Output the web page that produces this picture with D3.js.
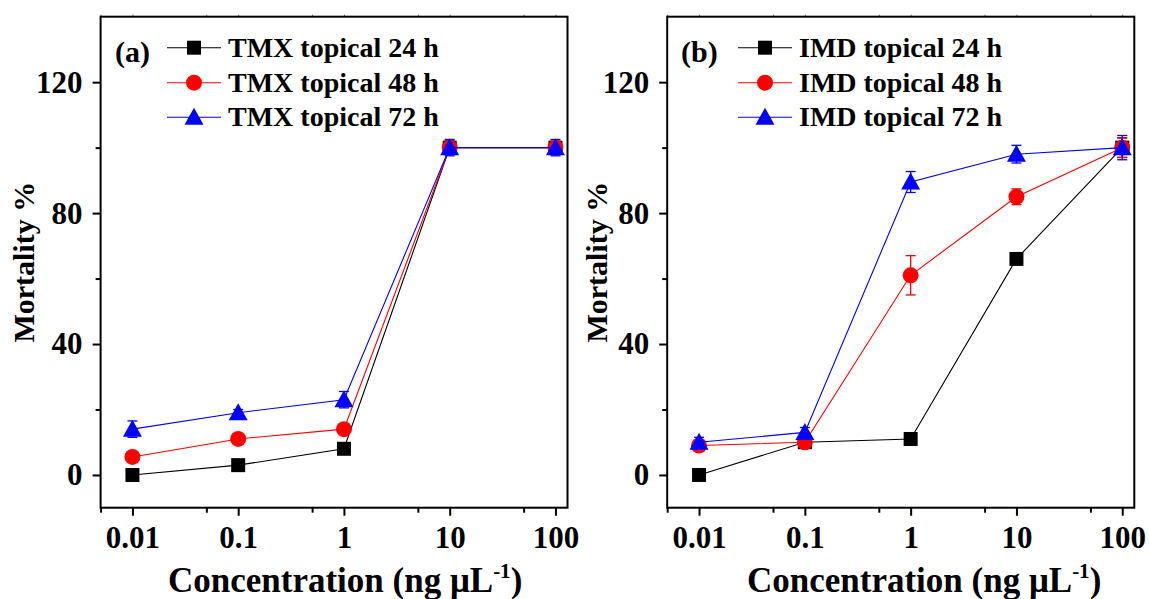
<!DOCTYPE html>
<html>
<head>
<meta charset="utf-8">
<script src="https://cdn.jsdelivr.net/npm/d3@7"></script>
<style>
  html, body { margin: 0; padding: 0; background: #fff; }
  svg text { font-family: 'Liberation Serif', 'Times New Roman', serif; font-weight: bold; fill: #000; }
</style>
</head>
<body>
<svg id="chart" width="1149" height="599"></svg>
<script>
// ---------------- data ----------------
const concentrations = [0.01, 0.1, 1, 10, 100];
const xTickLabels = ["0.01", "0.1", "1", "10", "100"];
const yTickValues = [0, 40, 80, 120];

const tmxNames = ["TMX topical 24 h", "TMX topical 48 h", "TMX topical 72 h"];
const tmx24 = [0, 3, 8, 100, 100];
const tmx48 = [5.5, 11, 14, 100, 100];
const tmx72 = [14, 19, 23, 100, 100];
const tmx24Err = [0.5, 1, 1, 2, 1];
const tmx48Err = [1, 1, 1, 2, 2];
const tmx72Err = [2.5, 1, 2.5, 2.5, 2.5];

const imdNames = ["IMD topical 24 h", "IMD topical 48 h", "IMD topical 72 h"];
const imd24 = [0, 10, 11, 66, 100];
const imd48 = [9, 10, 61, 85, 100];
const imd72 = [10, 13, 89.5, 98, 100];
const imd24Err = [0.5, 1, 1, 1, 3];
const imd48Err = [1, 1, 6, 2.4, 3];
const imd72Err = [1.5, 1.5, 3.2, 2.7, 3.7];

const seriesColors = ["#000000", "#ff0000", "#0000ff"];
const seriesShapes = ["square", "circle", "triangle"];

// ---------------- drawing ----------------
const svg = d3.select("#chart");

function markerPath(shape) {
  if (shape === "square") return "M-7,-7H7V7H-7Z";
  if (shape === "circle") return "M8,0A8,8 0 1,1 -8,0A8,8 0 1,1 8,0Z";
  return "M0,-9.5L9.5,7.5L-9.5,7.5Z";
}

function drawPanel(opt) {
  const g = svg.append("g");
  const x = d3.scaleLog().domain([0.005, 130]).range([opt.left, opt.right]);
  const y = d3.scaleLinear().domain([-10, 140]).range([opt.bottom, opt.top]);

  // x axis (bottom) major and minor ticks
  const majorX = concentrations;
  const minorX = [0.005, 0.05, 0.5, 5, 50];
  const xAxis = d3.axisBottom(x).tickValues(majorX)
    .tickFormat((d, i) => xTickLabels[i]).tickSize(8).tickPadding(10);
  const gx = g.append("g").attr("transform", `translate(0,${opt.bottom})`).call(xAxis);
  gx.select(".domain").remove();
  gx.selectAll(".tick line").attr("stroke", "#000").attr("stroke-width", 2);
  gx.selectAll(".tick text").style("font-size", "31px").attr("dy", "0.71em");
  g.append("g").attr("transform", `translate(0,${opt.bottom})`)
    .call(d3.axisBottom(x).tickValues(minorX).tickFormat("").tickSize(5))
    .call(s => { s.select(".domain").remove(); s.selectAll("line").attr("stroke", "#000").attr("stroke-width", 2); });

  // top axis small ticks
  g.append("g").attr("transform", `translate(0,${opt.top})`)
    .call(d3.axisTop(x).tickValues(majorX.concat(minorX)).tickFormat("").tickSize(2))
    .call(s => { s.select(".domain").remove(); s.selectAll("line").attr("stroke", "#666").attr("stroke-width", 1); });

  // y axis
  const yAxis = d3.axisLeft(y).tickValues(yTickValues).tickSize(8).tickPadding(10);
  const gy = g.append("g").attr("transform", `translate(${opt.left},0)`).call(yAxis);
  gy.select(".domain").remove();
  gy.selectAll(".tick line").attr("stroke", "#000").attr("stroke-width", 2);
  gy.selectAll(".tick text").style("font-size", "31px");
  g.append("g").attr("transform", `translate(${opt.left},0)`)
    .call(d3.axisLeft(y).tickValues([20, 60, 100]).tickFormat("").tickSize(5))
    .call(s => { s.select(".domain").remove(); s.selectAll("line").attr("stroke", "#000").attr("stroke-width", 2); });

  // frame
  g.append("rect")
    .attr("x", opt.left).attr("y", opt.top)
    .attr("width", opt.right - opt.left).attr("height", opt.bottom - opt.top)
    .attr("fill", "none").attr("stroke", "#000").attr("stroke-width", 2);

  // series
  const line = d3.line().x(d => x(d.c)).y(d => y(d.v));
  opt.series.forEach((vals, si) => {
    const pts = concentrations.map((c, i) => ({ c, v: vals[i], e: opt.errors[si][i] }));
    const col = seriesColors[si];
    g.append("path").datum(pts).attr("d", line)
      .attr("fill", "none").attr("stroke", col).attr("stroke-width", 1.1);
    // error bars
    const eb = g.append("g").attr("stroke", col).attr("stroke-width", 1.3);
    pts.forEach(p => {
      const cx = x(p.c), y1 = y(p.v - p.e), y2 = y(p.v + p.e);
      eb.append("line").attr("x1", cx).attr("x2", cx).attr("y1", y1).attr("y2", y2);
      eb.append("line").attr("x1", cx - 5).attr("x2", cx + 5).attr("y1", y1).attr("y2", y1);
      eb.append("line").attr("x1", cx - 5).attr("x2", cx + 5).attr("y1", y2).attr("y2", y2);
    });
    g.append("g").selectAll("path").data(pts).join("path")
      .attr("d", markerPath(seriesShapes[si]))
      .attr("transform", d => `translate(${x(d.c)},${y(d.v)})`)
      .attr("fill", col);
  });

  // legend
  const rows = [47.7, 82.7, 117.3];
  opt.names.forEach((name, i) => {
    const col = seriesColors[i];
    g.append("line").attr("x1", opt.legX).attr("x2", opt.legX + 54)
      .attr("y1", rows[i]).attr("y2", rows[i]).attr("stroke", col).attr("stroke-width", 1.1);
    g.append("path").attr("d", markerPath(seriesShapes[i]))
      .attr("transform", `translate(${opt.legX + 27},${rows[i]})`).attr("fill", col);
    g.append("text").attr("x", opt.legX + 61).attr("y", rows[i] + 9)
      .style("font-size", "28px").text(name);
  });
  g.append("text").attr("x", opt.labelX).attr("y", 62).style("font-size", "30px").text(opt.label);

  // axis titles
  g.append("text")
    .attr("transform", `translate(${opt.yTitleX},${(opt.top + opt.bottom) / 2}) rotate(-90)`)
    .attr("text-anchor", "middle").style("font-size", "30px").text("Mortality %");
  const xt = g.append("text").attr("x", opt.xTitleX).attr("y", 592).style("font-size", "35px");
  xt.append("tspan").text("Concentration (ng \u03BCL");
  xt.append("tspan").attr("dy", -14).style("font-size", "21px").text("-1");
  xt.append("tspan").attr("dy", 14).text(")");
}

drawPanel({
  left: 100.6, right: 567.5, top: 16.7, bottom: 507.7,
  series: [tmx24, tmx48, tmx72], errors: [tmx24Err, tmx48Err, tmx72Err],
  names: tmxNames, label: "(a)", labelX: 115, legX: 167,
  yTitleX: 34, xTitleX: 168
});
drawPanel({
  left: 667.2, right: 1134.3, top: 16.7, bottom: 507.7,
  series: [imd24, imd48, imd72], errors: [imd24Err, imd48Err, imd72Err],
  names: imdNames, label: "(b)", labelX: 681, legX: 738,
  yTitleX: 607, xTitleX: 747
});
</script>
</body>
</html>
